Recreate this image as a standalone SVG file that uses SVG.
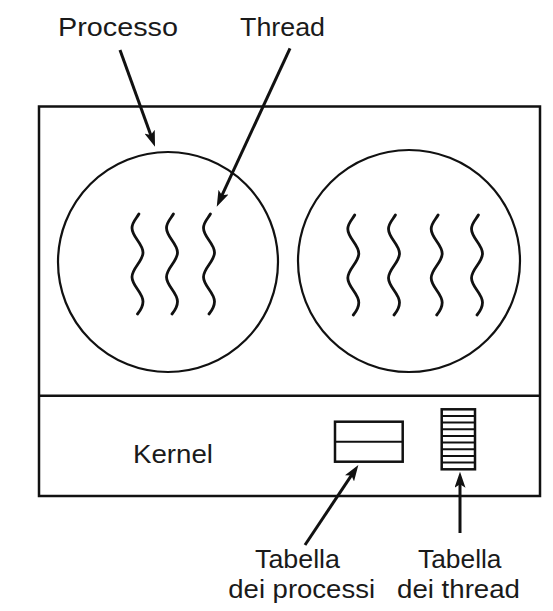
<svg xmlns="http://www.w3.org/2000/svg" xmlns:xlink="http://www.w3.org/1999/xlink" width="553" height="611" viewBox="0 0 553 611">
<style>
.lbl{font-family:"Liberation Sans",Arial,Helvetica,sans-serif;font-size:26px;fill:#1a1a1a}
.box{fill:none;stroke:#111;stroke-width:2.5}
.proc{fill:none;stroke:#111;stroke-width:2.2}
.thr{fill:none;stroke:#111;stroke-width:2.8;stroke-linecap:round}
.conn{fill:none;stroke:#111;stroke-width:3;marker-end:url(#ah)}
.tab{fill:#fff;stroke:#111;stroke-width:2.5}
.tl{stroke:#111;stroke-width:2}
</style>
<defs>
<marker id="ah" markerUnits="userSpaceOnUse" viewBox="0 0 16 11" refX="8" refY="5.5" markerWidth="16" markerHeight="11" orient="auto">
<path d="M0,0 L16,5.5 L0,11 L3.5,5.5 Z" fill="#111"/>
</marker>
<path id="wave" d="M1.4,0 C-1,4.5 -5.5,8 -5.5,14 C-5.5,23 5.5,29.5 5.5,38.5 C5.5,47.5 -5.5,54 -5.5,63 C-5.5,72 5.5,78.5 5.5,87.5 C5.5,93 2.5,97 0,100"/>
</defs>
<rect width="553" height="611" fill="#fff"/>
<g id="system">
<rect class="box" x="39" y="106.5" width="501" height="389.5"/>
<line class="box" x1="39" y1="395.7" x2="540" y2="395.7"/>
</g>
<g id="process1">
<circle class="proc" cx="168" cy="262" r="110"/>
<use xlink:href="#wave" class="thr" x="137.5" y="214"/>
<use xlink:href="#wave" class="thr" x="172" y="214"/>
<use xlink:href="#wave" class="thr" x="209" y="214"/>
</g>
<g id="process2">
<circle class="proc" cx="409" cy="261" r="111"/>
<use xlink:href="#wave" class="thr" x="353.3" y="215"/>
<use xlink:href="#wave" class="thr" x="394" y="215"/>
<use xlink:href="#wave" class="thr" x="436.7" y="215"/>
<use xlink:href="#wave" class="thr" x="477" y="215"/>
</g>
<g id="kernel">
<text class="lbl" x="133" y="463" textLength="80" lengthAdjust="spacingAndGlyphs">Kernel</text>
</g>
<g id="process-table">
<rect class="tab" x="335" y="421.7" width="67.7" height="40"/>
<line class="tl" x1="335" y1="441.7" x2="402.7" y2="441.7"/>
</g>
<g id="thread-table">
<rect class="tab" x="441.7" y="409.3" width="33.3" height="60"/>
<line class="tl" x1="441.7" y1="416" x2="475" y2="416"/>
<line class="tl" x1="441.7" y1="422.6" x2="475" y2="422.6"/>
<line class="tl" x1="441.7" y1="429.3" x2="475" y2="429.3"/>
<line class="tl" x1="441.7" y1="436" x2="475" y2="436"/>
<line class="tl" x1="441.7" y1="442.6" x2="475" y2="442.6"/>
<line class="tl" x1="441.7" y1="449.3" x2="475" y2="449.3"/>
<line class="tl" x1="441.7" y1="456" x2="475" y2="456"/>
<line class="tl" x1="441.7" y1="462.6" x2="475" y2="462.6"/>
</g>
<g id="label-processo">
<text class="lbl" x="58" y="36" textLength="120" lengthAdjust="spacingAndGlyphs">Processo</text>
</g>
<g id="label-thread">
<text class="lbl" x="240" y="36" textLength="85" lengthAdjust="spacingAndGlyphs">Thread</text>
</g>
<g id="label-tabproc">
<text class="lbl" x="255" y="568" textLength="85" lengthAdjust="spacingAndGlyphs">Tabella</text>
<text class="lbl" x="228.3" y="598" textLength="146.7" lengthAdjust="spacingAndGlyphs">dei processi</text>
</g>
<g id="label-tabthr">
<text class="lbl" x="418" y="568" textLength="83.5" lengthAdjust="spacingAndGlyphs">Tabella</text>
<text class="lbl" x="397" y="598" textLength="123" lengthAdjust="spacingAndGlyphs">dei thread</text>
</g>
<g id="connectors">
<line class="conn" x1="120" y1="50" x2="152.3" y2="139.2"/>
<line class="conn" x1="290" y1="48.3" x2="220.1" y2="199.4"/>
<line class="conn" x1="305" y1="545" x2="353.9" y2="471.7"/>
<line class="conn" x1="460" y1="533" x2="460" y2="479.7"/>
</g>
</svg>
